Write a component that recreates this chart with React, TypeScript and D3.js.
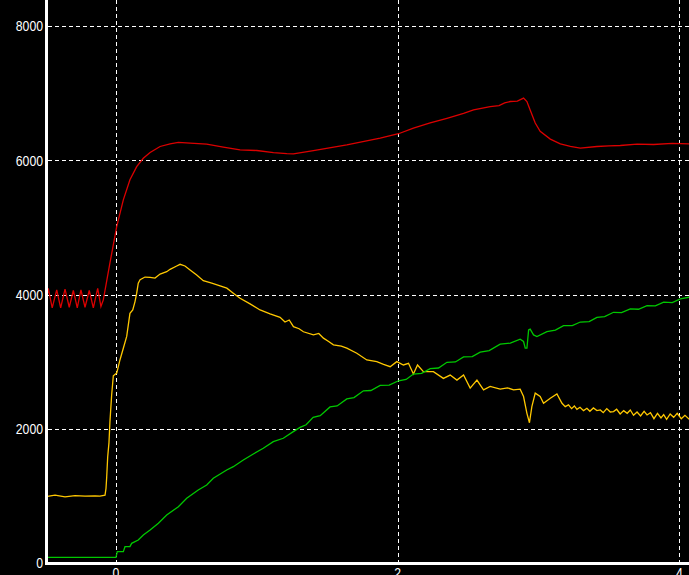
import React, { useEffect, useRef } from "react";
import * as d3 from "d3";

const W = 689;
const H = 575;

const yTicks = [0, 2000, 4000, 6000, 8000];
const xTicks = [0, 2, 4];

const redX = [-0.497, -0.481, -0.453, -0.421, -0.393, -0.362, -0.332, -0.303, -0.275, -0.249, -0.22, -0.19, -0.161, -0.13, -0.107, -0.09, -0.043, 0.005, 0.052, 0.099, 0.147, 0.194, 0.242, 0.313, 0.384, 0.443, 0.526, 0.644, 0.762, 0.881, 1.0, 1.118, 1.213, 1.26, 1.402, 1.639, 1.876, 2.006, 2.112, 2.231, 2.35, 2.468, 2.539, 2.657, 2.72, 2.76, 2.799, 2.85, 2.894, 2.918, 2.941, 2.977, 3.012, 3.084, 3.155, 3.226, 3.297, 3.415, 3.5, 3.581, 3.7, 3.817, 3.95, 4.071];
const redY = [3870, 4090, 3800, 4070, 3800, 4080, 3810, 4060, 3800, 4070, 3810, 4060, 3800, 4090, 3820, 3920, 4470, 5010, 5410, 5710, 5905, 6030, 6115, 6205, 6245, 6265, 6255, 6240, 6195, 6155, 6145, 6115, 6100, 6095, 6145, 6230, 6330, 6395, 6480, 6555, 6625, 6700, 6750, 6800, 6815, 6855, 6875, 6880, 6925, 6875, 6750, 6555, 6430, 6315, 6245, 6205, 6180, 6205, 6215, 6220, 6240, 6235, 6250, 6245];

const yellowX = [-0.497, -0.433, -0.362, -0.291, -0.22, -0.149, -0.114, -0.078, -0.071, -0.066, -0.059, -0.05, -0.043, -0.031, -0.019, 0.005, 0.028, 0.052, 0.076, 0.099, 0.119, 0.135, 0.147, 0.158, 0.171, 0.206, 0.242, 0.277, 0.313, 0.36, 0.384, 0.431, 0.455, 0.49, 0.526, 0.573, 0.62, 0.68, 0.739, 0.787, 0.833, 0.881, 0.952, 1.023, 1.094, 1.165, 1.2, 1.23, 1.26, 1.3, 1.331, 1.402, 1.44, 1.473, 1.51, 1.544, 1.6, 1.639, 1.71, 1.781, 1.852, 1.9, 1.947, 1.994, 2.041, 2.077, 2.112, 2.141, 2.183, 2.254, 2.325, 2.373, 2.421, 2.468, 2.515, 2.563, 2.61, 2.657, 2.728, 2.78, 2.823, 2.87, 2.894, 2.918, 2.936, 2.953, 2.977, 3.012, 3.036, 3.084, 3.131, 3.167, 3.19, 3.213, 3.235, 3.255, 3.273, 3.295, 3.32, 3.344, 3.365, 3.39, 3.415, 3.439, 3.46, 3.485, 3.51, 3.533, 3.555, 3.58, 3.605, 3.63, 3.652, 3.675, 3.7, 3.725, 3.75, 3.771, 3.795, 3.82, 3.845, 3.87, 3.889, 3.91, 3.935, 3.96, 3.985, 4.014, 4.04, 4.071];
const yellowY = [990, 1010, 985, 1005, 995, 1000, 996, 1010, 1110, 1280, 1580, 1790, 2105, 2500, 2790, 2830, 3025, 3200, 3375, 3720, 3770, 3895, 4020, 4170, 4220, 4260, 4255, 4245, 4305, 4340, 4375, 4425, 4450, 4425, 4365, 4290, 4205, 4170, 4130, 4095, 4020, 3945, 3860, 3770, 3710, 3660, 3590, 3620, 3520, 3490, 3445, 3400, 3420, 3350, 3300, 3250, 3230, 3200, 3125, 3025, 3000, 2960, 2925, 3000, 2950, 2975, 2815, 2950, 2850, 2850, 2750, 2800, 2725, 2800, 2605, 2725, 2580, 2630, 2590, 2610, 2580, 2590, 2480, 2230, 2090, 2330, 2530, 2480, 2380, 2455, 2520, 2380, 2330, 2355, 2300, 2340, 2290, 2320, 2270, 2305, 2260, 2310, 2270, 2280, 2240, 2300, 2250, 2255, 2290, 2220, 2270, 2230, 2280, 2200, 2250, 2190, 2260, 2205, 2240, 2150, 2230, 2160, 2210, 2140, 2220, 2170, 2230, 2150, 2200, 2140];

const greenX = [-0.497, 0.0, 0.009, 0.052, 0.064, 0.099, 0.111, 0.158, 0.194, 0.242, 0.301, 0.36, 0.443, 0.502, 0.584, 0.644, 0.691, 0.786, 0.833, 0.904, 0.975, 1.046, 1.117, 1.188, 1.259, 1.307, 1.35, 1.4, 1.45, 1.52, 1.57, 1.639, 1.69, 1.757, 1.81, 1.876, 1.94, 2.006, 2.06, 2.112, 2.17, 2.231, 2.29, 2.35, 2.41, 2.468, 2.53, 2.586, 2.65, 2.728, 2.8, 2.87, 2.894, 2.906, 2.918, 2.93, 2.941, 2.965, 2.989, 3.06, 3.12, 3.178, 3.24, 3.297, 3.36, 3.415, 3.47, 3.533, 3.59, 3.652, 3.71, 3.771, 3.83, 3.889, 3.95, 4.007, 4.071];
const greenY = [85, 85, 168, 170, 243, 245, 293, 343, 417, 492, 592, 715, 839, 964, 1088, 1162, 1262, 1386, 1435, 1535, 1624, 1709, 1808, 1858, 1957, 2020, 2060, 2170, 2195, 2325, 2340, 2445, 2465, 2565, 2570, 2645, 2650, 2715, 2735, 2815, 2825, 2895, 2905, 2990, 2995, 3070, 3075, 3140, 3165, 3260, 3275, 3335, 3300, 3200, 3200, 3472, 3483, 3398, 3373, 3447, 3470, 3535, 3535, 3590, 3595, 3660, 3670, 3735, 3730, 3785, 3780, 3835, 3830, 3885, 3880, 3935, 3960];

const series = [
  { xs: redX, ys: redY, color: "#dc0000" },
  { xs: yellowX, ys: yellowY, color: "#ffc800" },
  { xs: greenX, ys: greenY, color: "#00c800" },
];

export default function App() {
  const ref = useRef<SVGSVGElement>(null);
  useEffect(() => {
    document.body.style.margin = "0";
    document.body.style.background = "#000";
    const svg = d3.select(ref.current);
    svg.selectAll("*").remove();
    const x = d3.scaleLinear().domain([0, 4]).range([116, 679.3]);
    const y = d3.scaleLinear().domain([0, 8000]).range([563, 26]);

    svg.append("rect").attr("width", W).attr("height", H).attr("fill", "#000");

    const grid = svg.append("g").attr("stroke", "#fff").attr("stroke-width", 1).attr("stroke-dasharray", "4,3");
    yTicks.filter((t) => t > 0).forEach((t) => {
      const yy = Math.round(y(t)) + 0.5;
      grid.append("line").attr("x1", 48).attr("x2", W).attr("y1", yy).attr("y2", yy);
    });
    xTicks.forEach((t) => {
      const xx = Math.round(x(t)) + 0.5;
      grid.append("line").attr("x1", xx).attr("x2", xx).attr("y1", 0).attr("y2", 562);
    });

    series.forEach((s) => {
      const pts: [number, number][] = s.xs.map((v, i) => [v, s.ys[i]]);
      const line = d3.line<[number, number]>().x((d) => x(d[0])).y((d) => y(d[1]));
      svg.append("path").attr("d", line(pts)).attr("fill", "none").attr("stroke", s.color).attr("stroke-width", 1.3);
    });

    svg.append("line").attr("x1", 46.5).attr("x2", 46.5).attr("y1", 0).attr("y2", 565).attr("stroke", "#fff").attr("stroke-width", 3);
    svg.append("line").attr("x1", 45).attr("x2", W).attr("y1", 563.5).attr("y2", 563.5).attr("stroke", "#fff").attr("stroke-width", 3);

    const font = "'Liberation Sans', Arial, sans-serif";
    yTicks.forEach((t) => {
      const s = String(t);
      svg.append("text").attr("x", 43).attr("y", y(t)).attr("dy", "0.36em").attr("text-anchor", "end")
        .attr("fill", "#fff").attr("font-family", font).attr("font-size", 15)
        .attr("textLength", 6.8 * s.length).attr("lengthAdjust", "spacingAndGlyphs").text(s);
    });
    xTicks.forEach((t) => {
      const s = String(t);
      svg.append("text").attr("x", x(t)).attr("y", 578).attr("text-anchor", "middle")
        .attr("fill", "#fff").attr("font-family", font).attr("font-size", 15)
        .attr("textLength", 6.8 * s.length).attr("lengthAdjust", "spacingAndGlyphs").text(s);
    });
  }, []);
  return <svg ref={ref} width={W} height={H} style={{ display: "block", background: "#000" }} />;
}
